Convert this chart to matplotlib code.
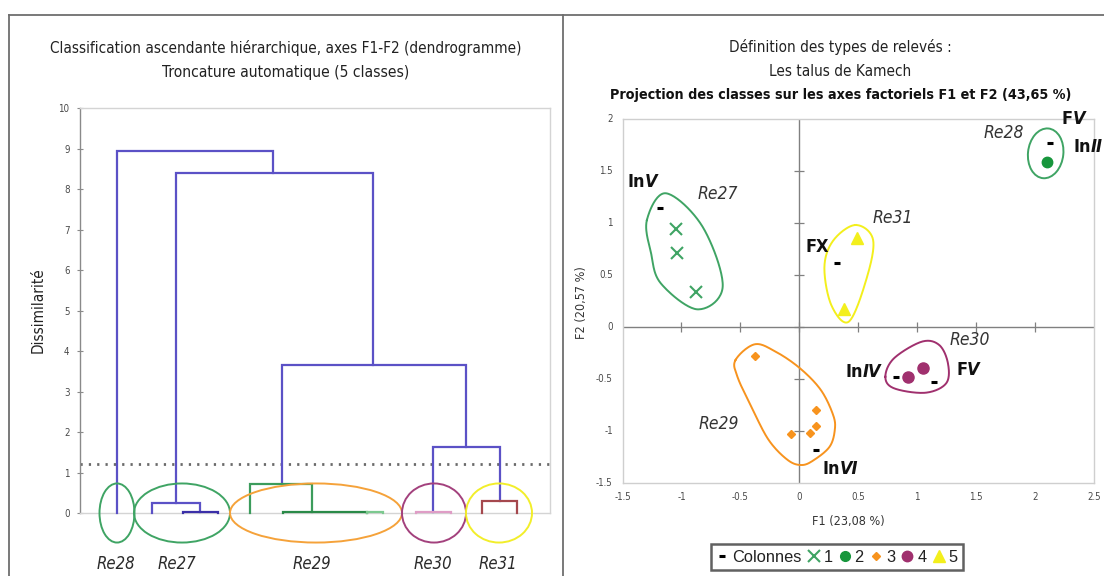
import numpy as np
import matplotlib
matplotlib.use("Agg")
import matplotlib.pyplot as plt
from matplotlib.lines import Line2D
from matplotlib.patches import Ellipse

plt.rcParams['font.family'] = ['DejaVu Sans']
plt.rcParams['font.stretch'] = 'condensed'

W, H = 1104, 576
fig = plt.figure(figsize=(W / 100, H / 100), dpi=100)
fig.patch.set_facecolor('white')

# ---------------- Data: dendrogram ----------------
leaf_labels = ['Re28', 'Re27', 'Re29', 'Re30', 'Re31']
leaf_label_x = [3.55, 9.65, 23.2, 35.3, 41.8]
class_center_x = [3.7, 10.2, 23.6, 35.4, 41.9]
class_width = [3.5, 9.6, 17.2, 6.4, 6.6]
class_color = ['#3fa464', '#3fa464', '#f5a23a', '#a3417d', '#f2ee2a']

link_left = [3.7, 9.6, 20.2, 35.3, 7.2, 10.3, 17.0, 20.3, 28.7, 33.6, 40.2]
link_right = [19.3, 29.3, 38.6, 42.0, 12.0, 13.8, 23.2, 28.7, 30.3, 37.1, 43.7]
link_height = [8.95, 8.4, 3.65, 1.62, 0.25, 0.03, 0.72, 0.03, 0.03, 0.03, 0.30]
link_bottom_left = [0, 0.25, 0.72, 0.03, 0, 0, 0, 0.0, 0.0, 0.0, 0]
link_bottom_right = [8.4, 3.65, 1.62, 0.30, 0.03, 0, 0.03, 0.0, 0.0, 0.0, 0]
link_color = ['#5b51c6', '#5b51c6', '#5b51c6', '#5b51c6', '#5b51c6', '#3b2fa8',
              '#3c9c5c', '#2a8a48', '#7cc98f', '#df9dc6', '#a5484e']
truncation_level = 1.2

# ---------------- Data: projection ----------------
cls1_x = [-1.05, -1.04, -0.88]
cls1_y = [0.94, 0.71, 0.33]
cls2_x = [2.10]
cls2_y = [1.58]
cls3_x = [-0.38, 0.14, 0.14, 0.09, -0.07]
cls3_y = [-0.28, -0.80, -0.96, -1.02, -1.03]
cls4_x = [0.92, 1.05]
cls4_y = [-0.49, -0.40]
cls5_x = [0.49, 0.38]
cls5_y = [0.85, 0.17]
col_x = [-1.18, 2.13, 0.32, 0.82, 1.14, 0.14]
col_y = [1.14, 1.76, 0.61, -0.49, -0.53, -1.19]

# hull outlines (control points)
hull1_x = [-1.293, -1.131, -0.821, -0.650, -0.865, -1.175, -1.258]
hull1_y = [1.024, 1.281, 0.960, 0.383, 0.165, 0.415, 0.707]
hull3_x = [-0.541, -0.378, -0.201, 0.006, 0.183, 0.287, 0.301, 0.257, 0.124, 0.020, -0.098, -0.260, -0.407, -0.525]
hull3_y = [-0.322, -0.171, -0.242, -0.402, -0.611, -0.851, -0.995, -1.156, -1.284, -1.332, -1.284, -1.091, -0.771, -0.483]
hull4_x = [0.730, 0.803, 1.039, 1.187, 1.261, 1.246, 1.069, 0.803]
hull4_y = [-0.483, -0.306, -0.146, -0.178, -0.354, -0.546, -0.637, -0.594]
hull5_x = [0.478, 0.626, 0.567, 0.419, 0.271, 0.213, 0.290]
hull5_y = [0.976, 0.832, 0.447, 0.046, 0.207, 0.575, 0.830]
hull2_center = (2.09, 1.665)
hull2_size = (0.30, 0.48)

GREEN = '#3fa464'
GREEN2 = '#17963c'
ORANGE = '#f7931e'
PURPLE = '#a0306e'
YELLOW = '#f3ef1c'


def closed_curve(xs, ys, n=24):
    p = np.column_stack([xs, ys])
    m = len(p)
    out = []
    for i in range(m):
        p0, p1, p2, p3 = p[(i - 1) % m], p[i], p[(i + 1) % m], p[(i + 2) % m]
        t = np.linspace(0, 1, n, endpoint=False)[:, None]
        seg = 0.5 * ((2 * p1) + (-p0 + p2) * t + (2 * p0 - 5 * p1 + 4 * p2 - p3) * t ** 2
                     + (-p0 + 3 * p1 - 3 * p2 + p3) * t ** 3)
        out.append(seg)
    out = np.vstack(out + [out[0][:1]])
    return out[:, 0], out[:, 1]


# ---------------- frame lines ----------------
def fline(x0, y0, x1, y1, **kw):
    fig.add_artist(Line2D([x0 / W, x1 / W], [1 - y0 / H, 1 - y1 / H],
                          transform=fig.transFigure, **kw))

frame_kw = dict(color='#6e6e6e', lw=1.3)
fline(9, 15, 1104, 15, **frame_kw)
fline(9, 15, 9, 576, **frame_kw)
fline(562.5, 15, 562.5, 576, **frame_kw)

# ---------------- Left: dendrogram ----------------
ax1 = fig.add_axes([80 / W, 1 - 513 / H, 470 / W, (513 - 108.3) / H])
ax1.set_xlim(0, 47)
ax1.set_ylim(0, 10)
for s in ['top', 'right', 'bottom']:
    ax1.spines[s].set_color('#d4d4d4')
    ax1.spines[s].set_linewidth(1.0)
ax1.spines['left'].set_color('#8a8a8a')
ax1.spines['left'].set_linewidth(1.0)
ax1.set_xticks([])
ax1.set_yticks(range(0, 11))
ax1.tick_params(axis='y', direction='inout', length=5, width=0.8, color='#8a8a8a',
                labelsize=7, labelcolor='#4a4a4a', pad=5)

for xl, xr, h, bl, br, c in zip(link_left, link_right, link_height,
                                 link_bottom_left, link_bottom_right, link_color):
    ax1.plot([xl, xl, xr, xr], [bl, h, h, br], color=c, lw=1.6,
             solid_joinstyle='miter', clip_on=False, zorder=3)

ax1.axhline(truncation_level, color='#6a6a6a', lw=2.0, linestyle=(0, (0.8, 2.2)), zorder=2)

for cx, w, c in zip(class_center_x, class_width, class_color):
    ax1.add_patch(Ellipse((cx, 0), w, 1.46, fill=False, edgecolor=c, lw=1.4,
                          clip_on=False, zorder=4))
for lx, lab in zip(leaf_label_x, leaf_labels):
    ax1.text(lx, -1.25, lab, ha='center', va='center', fontsize=12, style='italic',
             color='#2a2a2a', clip_on=False)

fig.text(38 / W, 1 - 310 / H, 'Dissimilarité', rotation=90, ha='center', va='center',
         fontsize=11, color='#222222')
fig.text(286 / W, 1 - 48 / H, 'Classification ascendante hiérarchique, axes F1-F2 (dendrogramme)',
         ha='center', va='center', fontsize=11, color='#222222')
fig.text(286 / W, 1 - 73 / H, 'Troncature automatique (5 classes)',
         ha='center', va='center', fontsize=11.2, color='#222222')

# ---------------- Right: projection ----------------
ax2 = fig.add_axes([622.5 / W, 1 - 482.5 / H, (1094 - 622.5) / W, (482.5 - 118.5) / H])
ax2.set_xlim(-1.5, 2.5)
ax2.set_ylim(-1.5, 2)
for s in ax2.spines.values():
    s.set_color('#cfcfcf')
    s.set_linewidth(1.0)
xt = [-1.5, -1, -0.5, 0, 0.5, 1, 1.5, 2, 2.5]
yt = [-1.5, -1, -0.5, 0, 0.5, 1, 1.5, 2]
ax2.set_xticks(xt)
ax2.set_xticklabels(['-1.5', '-1', '-0.5', '0', '0.5', '1', '1.5', '2', '2.5'])
ax2.set_yticks(yt)
ax2.set_yticklabels(['-1.5', '-1', '-0.5', '0', '0.5', '1', '1.5', '2'])
ax2.tick_params(length=0, labelsize=7, labelcolor='#4a4a4a')
ax2.tick_params(axis='x', pad=7)
ax2.tick_params(axis='y', pad=7)
ax2.axhline(0, color='#808080', lw=1.0, zorder=1)
ax2.axvline(0, color='#808080', lw=1.0, zorder=1)
ax2.plot(xt[1:-1], [0] * (len(xt) - 2), ls='none', marker='|', ms=7, mew=0.9, color='#808080', zorder=1)
ax2.plot([0] * (len(yt) - 2), yt[1:-1], ls='none', marker='_', ms=7, mew=0.9, color='#808080', zorder=1)

for hx, hy, c in [(hull1_x, hull1_y, GREEN), (hull3_x, hull3_y, ORANGE),
                  (hull4_x, hull4_y, PURPLE), (hull5_x, hull5_y, YELLOW)]:
    cx, cy = closed_curve(hx, hy)
    ax2.plot(cx, cy, color=c, lw=1.4, clip_on=False, zorder=2)
ax2.add_patch(Ellipse(hull2_center, hull2_size[0], hull2_size[1], angle=-5, fill=False,
                      edgecolor=GREEN, lw=1.4, zorder=2))

ax2.plot(col_x, col_y, ls='none', marker='_', ms=5, mew=2.2, color='black', zorder=5)
ax2.plot(cls1_x, cls1_y, ls='none', marker='x', ms=8, mew=1.5, color=GREEN, zorder=5)
ax2.plot(cls2_x, cls2_y, ls='none', marker='o', ms=7.5, color=GREEN2, zorder=5)
ax2.plot(cls3_x, cls3_y, ls='none', marker='D', ms=4.5, color=ORANGE, zorder=5)
ax2.plot(cls4_x, cls4_y, ls='none', marker='o', ms=8, color=PURPLE, zorder=5)
ax2.plot(cls5_x, cls5_y, ls='none', marker='^', ms=9, color=YELLOW, zorder=5)

# class names
re_labels = ['Re27', 'Re28', 'Re31', 'Re30', 'Re29']
re_x = [-0.69, 1.733, 0.79, 1.446, -0.68]
re_y = [1.27, 1.857, 1.04, -0.13, -0.937]
for t, x, y in zip(re_labels, re_x, re_y):
    ax2.text(x, y, t, ha='center', va='center', fontsize=12.5, style='italic', color='#333333',
             clip_on=False, zorder=6)

# column labels: upright prefix + italic suffix
col_prefix = ['In', 'F', 'In', 'F', 'In', 'In']
col_suffix = ['V', 'V', 'II', 'V', 'IV', 'VI']
col_lab_x = [-1.309, 2.318, 2.471, 1.423, 0.537, 0.345]
col_lab_y = [1.39, 2.0, 1.729, -0.418, -0.435, -1.37]
for p, s, x, y in zip(col_prefix, col_suffix, col_lab_x, col_lab_y):
    ax2.text(x, y, p, ha='right', va='center', fontsize=13, fontweight='bold', color='#111111',
             clip_on=False, zorder=6)
    ax2.text(x, y, s, ha='left', va='center', fontsize=13, fontweight='bold', style='italic',
             color='#111111', clip_on=False, zorder=6)
ax2.text(0.155, 0.767, 'FX', ha='center', va='center', fontsize=13, fontweight='bold',
         color='#111111', zorder=6)

fig.text(848 / W, 1 - 521 / H, 'F1 (23,08 %)', ha='center', va='center', fontsize=9, color='#333333')
fig.text(582 / W, 1 - 303 / H, 'F2 (20,57 %)', rotation=90, ha='center', va='center',
         fontsize=9, color='#333333')

fig.text(840 / W, 1 - 47 / H, 'Définition des types de relevés :', ha='center', va='center',
         fontsize=11, color='#222222')
fig.text(840 / W, 1 - 71 / H, 'Les talus de Kamech', ha='center', va='center',
         fontsize=11, color='#222222')
fig.text(841 / W, 1 - 95 / H, 'Projection des classes sur les axes factoriels F1 et F2 (43,65 %)',
         ha='center', va='center', fontsize=10.3, fontweight='bold', color='#111111')

# legend
legend_labels = ['Colonnes', '1', '2', '3', '4', '5']
handles = [
    Line2D([], [], ls='none', marker='_', ms=5, mew=2.2, color='black'),
    Line2D([], [], ls='none', marker='x', ms=8, mew=1.5, color=GREEN),
    Line2D([], [], ls='none', marker='o', ms=7, color=GREEN2),
    Line2D([], [], ls='none', marker='D', ms=4.5, color=ORANGE),
    Line2D([], [], ls='none', marker='o', ms=7.5, color=PURPLE),
    Line2D([], [], ls='none', marker='^', ms=9, color=YELLOW),
]
leg = fig.legend(handles, legend_labels, loc='center', bbox_to_anchor=(837 / W, 1 - 557 / H),
                 ncol=6, frameon=True, fancybox=False, handlelength=0.7, handletextpad=0.25,
                 columnspacing=0.4, borderpad=0.35,
                 prop={'family': ['Liberation Sans', 'DejaVu Sans'], 'size': 11.8, 'stretch': 'normal'})
leg.get_frame().set_edgecolor('#3a3a3a')
leg.get_frame().set_linewidth(1.8)
for t in leg.get_texts():
    t.set_color('#222222')

fig.savefig('out.png', dpi=100, facecolor='white')
